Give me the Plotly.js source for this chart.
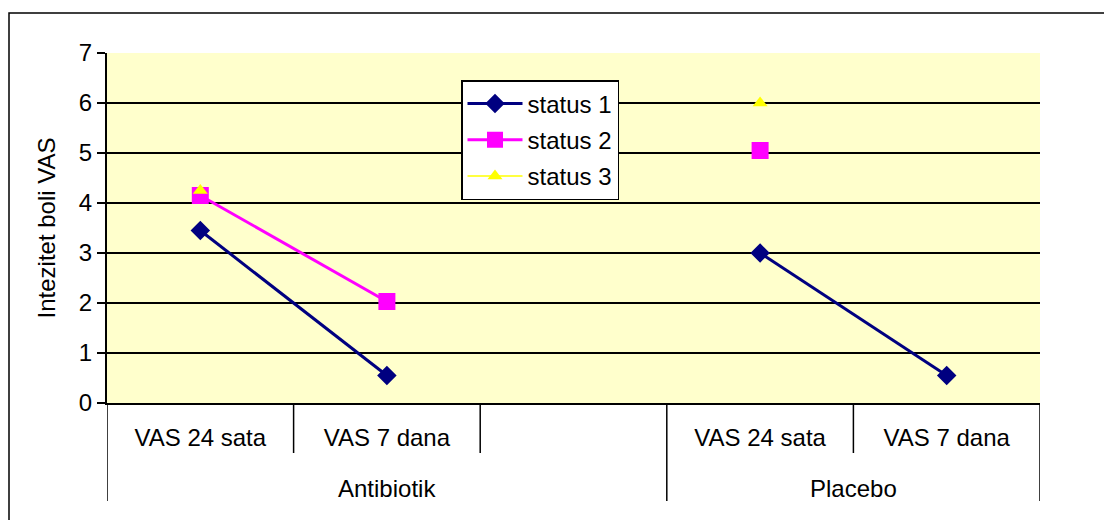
<!DOCTYPE html>
<html>
<head>
<meta charset="utf-8">
<script src="https://cdn.plot.ly/plotly-3.0.1.min.js"></script>
<style>
  html, body { margin: 0; padding: 0; background: #ffffff; }
  #chart { width: 1104px; height: 520px; }
</style>
</head>
<body>
<div id="chart"></div>
<script>
// ---- data ----
const groups = ["Antibiotik", "Antibiotik", "Antibiotik", "Placebo", "Placebo"];
const categories = ["VAS 24 sata", "VAS 7 dana", "", "VAS 24 sata", "VAS 7 dana"];
const status1 = [3.45, 0.55, null, 3.0, 0.55];
const status2 = [4.15, 2.03, null, 5.05, null];
const status3 = [4.25, null, null, 6.0, null];
const seriesNames = ["status 1", "status 2", "status 3"];
const yTitle = "Intezitet boli VAS";

const FONT = "Liberation Sans, Arial, sans-serif";
const FS = 24;
// unique keys for the category axis (group + label)
const keys = categories.map((c, i) => groups[i] + "|" + i + "|" + c);
const n = keys.length;

const traces = [
  {
    x: keys, y: status1, name: seriesNames[0], type: "scatter", mode: "lines+markers",
    legendgroup: "g1",
    line: { color: "#000080", width: 3 },
    marker: { symbol: "diamond", size: 15, color: "#000080" }
  },
  {
    x: keys, y: status2, name: seriesNames[1], type: "scatter", mode: "lines+markers",
    legendgroup: "g2",
    line: { color: "#FF00FF", width: 3 },
    marker: { symbol: "square", size: 17, color: "#FF00FF" }
  },
  {
    x: keys, y: status3, name: seriesNames[2], type: "scatter", mode: "lines+markers",
    legendgroup: "g3",
    line: { color: "#FFFF00", width: 1.5 },
    marker: { symbol: "triangle-up", size: 13, color: "#FFFF00" }
  }
];

const PLOT_H = 350;
const shapes = [];
const annotations = [];
// separators below the axis: full height at group boundaries, short inside groups
for (let k = 0; k <= n; k++) {
  const isGroupEdge = (k === 0 || k === n || groups[k] !== groups[k - 1]);
  shapes.push({
    type: "line", xref: "x", yref: "paper",
    x0: k - 0.5, x1: k - 0.5, y0: 0, y1: isGroupEdge ? -98 / PLOT_H : -50 / PLOT_H,
    line: { color: "#000", width: 1.5 }
  });
}
// group labels centred under their categories
const uniqueGroups = [...new Set(groups)];
uniqueGroups.forEach(g => {
  const idx = groups.map((v, i) => v === g ? i : -1).filter(i => i >= 0);
  const mid = (idx[0] + idx[idx.length - 1]) / 2;
  annotations.push({
    xref: "x", yref: "paper", x: mid, y: -85 / PLOT_H,
    text: g, showarrow: false, xanchor: "center", yanchor: "middle",
    font: { family: FONT, size: FS, color: "#000" }
  });
});
// outer chart border (extends beyond the right/bottom edges)
shapes.push({
  type: "rect", xref: "paper", yref: "paper",
  x0: (9 - 107) / 933, x1: (1120 - 107) / 933,
  y0: -140 / PLOT_H, y1: (403 - 13) / PLOT_H,
  line: { color: "#000", width: 1.5 }, fillcolor: "rgba(0,0,0,0)", layer: "below"
});

const layout = {
  width: 1104, height: 520,
  margin: { l: 107, r: 64, t: 53, b: 117 },
  paper_bgcolor: "#ffffff",
  plot_bgcolor: "#FFFFCC",
  font: { family: FONT, size: FS, color: "#000" },
  showlegend: true,
  legend: {
    x: (461 - 107) / 933, y: (403 - 80) / PLOT_H, xanchor: "left", yanchor: "top",
    bgcolor: "#ffffff", bordercolor: "#000", borderwidth: 1.5,
    font: { family: FONT, size: FS, color: "#000" },
    tracegroupgap: 2, itemwidth: 55
  },
  xaxis: {
    type: "category",
    range: [-0.5, n - 0.5],
    tickvals: keys, ticktext: categories,
    showline: true, linecolor: "#000", linewidth: 2,
    showgrid: false, zeroline: false,
    ticks: "outside", ticklen: 12, tickcolor: "rgba(0,0,0,0)",
    tickfont: { family: FONT, size: FS, color: "#000" }
  },
  yaxis: {
    range: [0, 7], dtick: 1, tick0: 0,
    showline: true, linecolor: "#000", linewidth: 2,
    showgrid: true, gridcolor: "#000", gridwidth: 1.5,
    zeroline: false,
    ticks: "outside", ticklen: 8, tickwidth: 1.5, tickcolor: "#000",
    tickfont: { family: FONT, size: FS, color: "#000" },
    title: { text: yTitle, font: { family: FONT, size: FS, color: "#000" }, standoff: 16 }
  },
  shapes: shapes,
  annotations: annotations
};

Plotly.newPlot("chart", traces, layout, { displayModeBar: false, staticPlot: true });
</script>
</body>
</html>
